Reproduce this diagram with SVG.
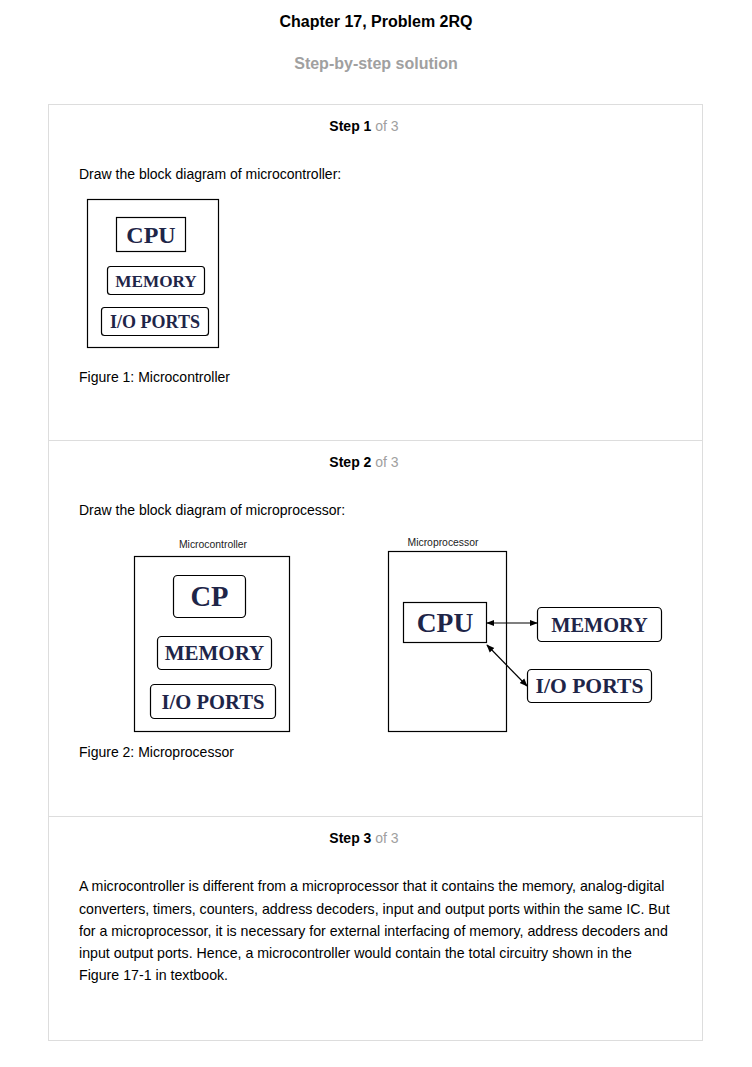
<svg xmlns="http://www.w3.org/2000/svg" width="752" height="1067" viewBox="0 0 752 1067">
<defs>
<style>
.t{font-family:"Liberation Sans",Arial,sans-serif;font-size:14px;fill:#000}
.p{font-size:14.2px}
.h{font-family:"Liberation Sans",Arial,sans-serif;font-weight:bold;font-size:16px;text-anchor:middle}
.st{font-family:"Liberation Sans",Arial,sans-serif;font-size:14px;text-anchor:middle}
.b{font-weight:bold;fill:#000}
.g{fill:#a0a0a0}
.box{fill:#fff;stroke:#000;stroke-width:1.2}
.lbl{font-family:"Liberation Serif","Times New Roman",serif;font-weight:bold;fill:#1e2548;text-anchor:middle}
.cap{font-family:"Liberation Sans",Arial,sans-serif;font-size:10.4px;fill:#222;text-anchor:middle}
.con{stroke:#000;stroke-width:1.2;fill:none;marker-start:url(#ah);marker-end:url(#ah)}
</style>
<marker id="ah" viewBox="0 0 10 10" refX="9" refY="5" markerWidth="8" markerHeight="8" orient="auto-start-reverse" markerUnits="userSpaceOnUse">
<path d="M0,1 L10,5 L0,9 z" fill="#000"/>
</marker>
</defs>
<rect width="752" height="1067" fill="#fff"/>
<text class="h" x="376" y="27" fill="#000">Chapter 17, Problem 2RQ</text>
<text class="h" x="376" y="69" fill="#a0a0a0">Step-by-step solution</text>
<rect x="48.5" y="104.5" width="654" height="936" fill="#fff" stroke="#dddddd"/>
<line x1="48.5" y1="440.5" x2="702.5" y2="440.5" stroke="#dddddd"/>
<line x1="48.5" y1="816.5" x2="702.5" y2="816.5" stroke="#dddddd"/>

<text class="st" x="364" y="131"><tspan class="b">Step 1</tspan><tspan class="g"> of 3</tspan></text>
<text class="t" x="79" y="179">Draw the block diagram of microcontroller:</text>

<g id="fig1-microcontroller">
<rect class="box" x="87.5" y="199.5" width="131" height="148"/>
</g>
<g id="fig1-cpu">
<rect class="box" x="116.5" y="217.5" width="69" height="34"/>
<text class="lbl" x="151" y="243" font-size="24">CPU</text>
</g>
<g id="fig1-memory">
<rect class="box" x="107.5" y="266.5" width="97" height="28" rx="3"/>
<text class="lbl" x="156" y="287" font-size="17.2">MEMORY</text>
</g>
<g id="fig1-io">
<rect class="box" x="101.5" y="307.5" width="107" height="28" rx="3"/>
<text class="lbl" x="155" y="328" font-size="18">I/O PORTS</text>
</g>
<text class="t" x="79" y="382">Figure 1: Microcontroller</text>

<text class="st" x="364" y="467"><tspan class="b">Step 2</tspan><tspan class="g"> of 3</tspan></text>
<text class="t" x="79" y="515">Draw the block diagram of microprocessor:</text>

<g id="fig2-microcontroller">
<text class="cap" x="213" y="548">Microcontroller</text>
<rect class="box" x="134.5" y="556.5" width="155" height="175"/>
</g>
<g id="fig2-cp">
<rect class="box" x="173.5" y="575.5" width="72" height="42" rx="4"/>
<text class="lbl" x="209.5" y="606" font-size="28.5">CP</text>
</g>
<g id="fig2-memory">
<rect class="box" x="157.5" y="636.5" width="114" height="33" rx="4"/>
<text class="lbl" x="214.5" y="660" font-size="21">MEMORY</text>
</g>
<g id="fig2-io">
<rect class="box" x="150.5" y="684.5" width="125" height="34" rx="4"/>
<text class="lbl" x="213" y="709" font-size="20.6">I/O PORTS</text>
</g>

<g id="fig2-microprocessor">
<text class="cap" x="443" y="546">Microprocessor</text>
<rect class="box" x="388.5" y="551.5" width="118" height="180"/>
</g>
<g id="fig2-cpu">
<rect class="box" x="403.5" y="602.5" width="83" height="40"/>
<text class="lbl" x="445" y="632" font-size="27.5">CPU</text>
</g>
<g id="fig2-ext-memory">
<rect class="box" x="537.5" y="607.5" width="124" height="34" rx="4"/>
<text class="lbl" x="599.5" y="632" font-size="20.4">MEMORY</text>
</g>
<g id="fig2-ext-io">
<rect class="box" x="527.5" y="669.5" width="124" height="33" rx="4"/>
<text class="lbl" x="589.5" y="693" font-size="21.6">I/O PORTS</text>
</g>
<g id="connectors">
<line class="con" x1="487" y1="623" x2="537" y2="623"/>
<line class="con" x1="487" y1="645" x2="527" y2="686"/>
</g>
<text class="t" x="79" y="757">Figure 2: Microprocessor</text>

<text class="st" x="364" y="843"><tspan class="b">Step 3</tspan><tspan class="g"> of 3</tspan></text>
<text class="t p">
<tspan x="79" y="891">A microcontroller is different from a microprocessor that it contains the memory, analog-digital</tspan>
<tspan x="79" y="914">converters, timers, counters, address decoders, input and output ports within the same IC. But</tspan>
<tspan x="79" y="936">for a microprocessor, it is necessary for external interfacing of memory, address decoders and</tspan>
<tspan x="79" y="958">input output ports. Hence, a microcontroller would contain the total circuitry shown in the</tspan>
<tspan x="79" y="980">Figure 17-1 in textbook.</tspan>
</text>
</svg>
